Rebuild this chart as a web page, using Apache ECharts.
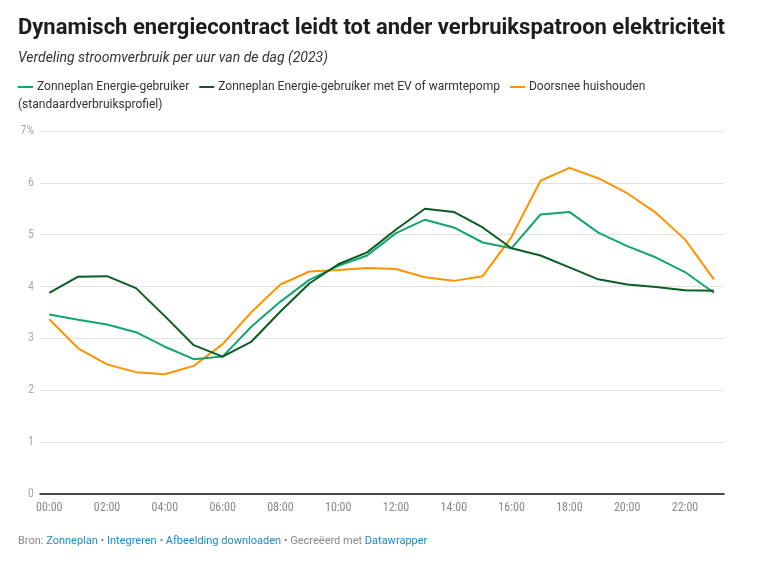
<!DOCTYPE html>
<html>
<head>
<meta charset="utf-8">
<script src="https://cdn.jsdelivr.net/npm/echarts@6/dist/echarts.min.js"></script>
<style>
html,body{margin:0;padding:0;background:#fff;}
#c{width:757px;height:565px;}
</style>
</head>
<body>
<div id="c"></div>
<script>
const hours = [0,1,2,3,4,5,6,7,8,9,10,11,12,13,14,15,16,17,18,19,20,21,22,23];
const xTickValues = [0,2,4,6,8,10,12,14,16,18,20,22];
const seriesNames = ['Zonneplan Energie-gebruiker', 'Zonneplan Energie-gebruiker met EV of warmtepomp', 'Doorsnee huishouden'];
const zonneplan = [3.46,3.36,3.27,3.12,2.84,2.60,2.65,3.23,3.71,4.13,4.40,4.60,5.03,5.29,5.14,4.85,4.74,5.39,5.44,5.04,4.78,4.56,4.28,3.88];
const zonneplanEV = [3.88,4.19,4.20,3.97,3.43,2.87,2.65,2.94,3.52,4.06,4.43,4.66,5.10,5.50,5.44,5.14,4.74,4.60,4.37,4.14,4.04,3.99,3.93,3.92];
const doorsnee = [3.37,2.81,2.50,2.35,2.31,2.47,2.89,3.51,4.04,4.29,4.32,4.36,4.34,4.18,4.11,4.20,4.96,6.04,6.29,6.09,5.80,5.42,4.91,4.14];

const FONT = 'Roboto, "Noto Sans", sans-serif';
const COND = '"Roboto Condensed", "Liberation Sans Narrow", "DejaVu Sans Condensed", Roboto, sans-serif';
const colors = ['#12a56c', '#0b5c22', '#ff9300'];

const chart = echarts.init(document.getElementById('c'), null, {renderer: 'canvas'});
const mk = (arr) => hours.map((h, i) => [h, arr[i]]);
chart.setOption({
  animation: false,
  textStyle: {fontFamily: FONT},
  title: [{
    text: 'Dynamisch energiecontract leidt tot ander verbruikspatroon elektriciteit',
    left: 18, top: 17, padding: 0,
    textStyle: {fontSize: 22, fontWeight: 'bold', color: '#1d1d1d', fontFamily: FONT}
  }, {
    text: 'Verdeling stroomverbruik per uur van de dag (2023)',
    left: 18, top: 51, padding: 0,
    textStyle: {fontSize: 14, fontStyle: 'italic', fontWeight: 'normal', color: '#333', fontFamily: FONT}
  }],
  legend: {
    left: 18, top: 81, padding: 0,
    itemWidth: 15, itemHeight: 2, itemGap: 10,
    icon: 'rect',
    textStyle: {fontSize: 12, color: '#333', fontFamily: FONT, padding: [0,0,0,-1]},
    data: seriesNames
  },
  graphic: [{
    type: 'text', left: 18, top: 99,
    style: {text: '(standaardverbruiksprofiel)', font: '12px ' + FONT, fill: '#333'}
  }, {
    type: 'text', left: 18, top: 536,
    style: {
      text: '{g|Bron: }{b|Zonneplan}{g| • }{b|Integreren}{g| • }{b|Afbeelding downloaden}{g| • Gecreëerd met }{b|Datawrapper}',
      font: '11px ' + FONT,
      rich: {
        g: {fill: '#888', fontSize: 11, fontFamily: FONT},
        b: {fill: '#1a8bc8', fontSize: 11, fontFamily: FONT}
      }
    }
  }],
  grid: {left: 40, right: 33, top: 131, bottom: 71, containLabel: false},
  xAxis: {
    type: 'value', min: -0.32, max: 23.35,
    axisLine: {show: true, onZero: false, lineStyle: {color: '#111', width: 1.5}},
    axisTick: {show: false},
    splitLine: {show: false},
    axisLabel: {
      customValues: xTickValues,
      margin: 8,
      color: '#888', fontSize: 12, fontFamily: COND,
      formatter: v => (v < 10 ? '0' : '') + v + ':00'
    }
  },
  yAxis: {
    type: 'value', min: 0, max: 7, interval: 1,
    axisLine: {show: false}, axisTick: {show: false},
    splitLine: {lineStyle: {color: '#e3e3e3', width: 1}},
    axisLabel: {
      margin: 6, color: '#aaa', fontSize: 12, fontFamily: COND,
      formatter: v => v === 7 ? '7%' : String(v)
    }
  },
  series: [
    {name: seriesNames[0], type: 'line', data: mk(zonneplan), symbol: 'none', lineStyle: {width: 2, color: colors[0]}, itemStyle: {color: colors[0]}, z: 3},
    {name: seriesNames[1], type: 'line', data: mk(zonneplanEV), symbol: 'none', lineStyle: {width: 2, color: colors[1]}, itemStyle: {color: colors[1]}, z: 4},
    {name: seriesNames[2], type: 'line', data: mk(doorsnee), symbol: 'none', lineStyle: {width: 2, color: colors[2]}, itemStyle: {color: colors[2]}, z: 2}
  ]
});
</script>
</body>
</html>
